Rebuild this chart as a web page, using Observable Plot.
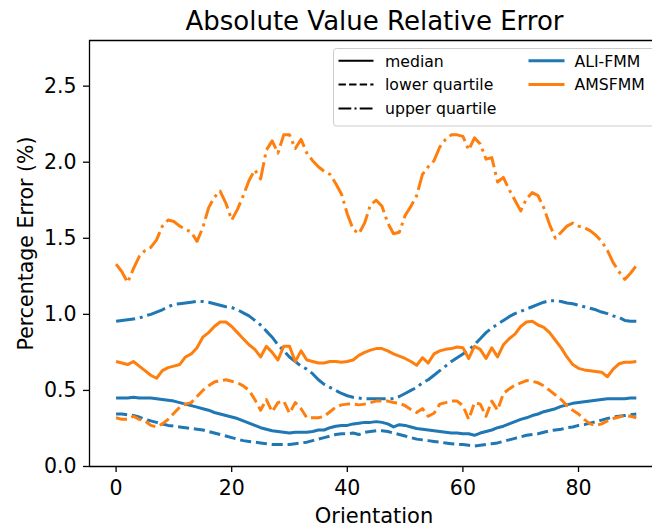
<!DOCTYPE html>
<html>
<head>
<meta charset="utf-8">
<script src="https://cdn.jsdelivr.net/npm/d3@7"></script>
<script src="https://cdn.jsdelivr.net/npm/@observablehq/plot@0.6"></script>
<style>
  html, body { margin: 0; padding: 0; background: white; overflow: hidden; }
  #chart { width: 652px; height: 529px; }
</style>
</head>
<body>
<div id="chart"></div>
<script>
// ---------------- data ----------------
const title = "Absolute Value Relative Error";
const xLabel = "Orientation";
const yLabel = "Percentage Error (%)";
const methods = ["ALI-FMM", "AMSFMM"];
const methodColors = ["#1f77b4", "#ff7f0e"];
const stats = ["median", "lower quartile", "upper quartile"];
const xTicks = [0, 20, 40, 60, 80];
const yTicks = [0, 0.5, 1.0, 1.5, 2.0, 2.5];
const xDomain = [-4.6, 92.8];
const yDomain = [0, 2.8];

const orientation = d3.range(0, 91);

const aliMedian = [
  0.45, 0.45, 0.45, 0.455, 0.45, 0.45, 0.45, 0.445, 0.44, 0.435,
  0.43, 0.42, 0.41, 0.40, 0.39, 0.38, 0.37, 0.355, 0.345, 0.335,
  0.325, 0.315, 0.30, 0.285, 0.27, 0.255, 0.245, 0.235, 0.23, 0.225,
  0.22, 0.225, 0.225, 0.225, 0.23, 0.24, 0.24, 0.255, 0.265, 0.27,
  0.27, 0.28, 0.285, 0.29, 0.29, 0.295, 0.29, 0.28, 0.26, 0.275,
  0.27, 0.26, 0.25, 0.245, 0.24, 0.235, 0.23, 0.225, 0.22, 0.22,
  0.215, 0.215, 0.205, 0.22, 0.23, 0.24, 0.255, 0.265, 0.28, 0.295,
  0.31, 0.32, 0.335, 0.345, 0.36, 0.37, 0.38, 0.395, 0.405, 0.415,
  0.42, 0.425, 0.43, 0.435, 0.44, 0.445, 0.445, 0.445, 0.445, 0.45,
  0.45
];
const aliLower = [
  0.345, 0.345, 0.34, 0.335, 0.325, 0.31, 0.30, 0.29, 0.28, 0.27,
  0.265, 0.26, 0.255, 0.25, 0.245, 0.24, 0.23, 0.22, 0.21, 0.20,
  0.19, 0.18, 0.17, 0.165, 0.16, 0.155, 0.15, 0.145, 0.145, 0.145,
  0.145, 0.15, 0.155, 0.16, 0.17, 0.18, 0.19, 0.20, 0.21, 0.215,
  0.215, 0.22, 0.21, 0.225, 0.23, 0.235, 0.235, 0.23, 0.22, 0.21,
  0.20, 0.19, 0.18, 0.175, 0.17, 0.165, 0.16, 0.155, 0.15, 0.145,
  0.145, 0.14, 0.135, 0.14, 0.145, 0.15, 0.155, 0.165, 0.175, 0.185,
  0.195, 0.205, 0.21, 0.215, 0.225, 0.235, 0.24, 0.245, 0.255, 0.26,
  0.27, 0.275, 0.285, 0.295, 0.305, 0.315, 0.325, 0.33, 0.335, 0.34,
  0.345
];
const aliUpper = [
  0.955, 0.96, 0.965, 0.97, 0.975, 0.99, 1.00, 1.015, 1.03, 1.05,
  1.065, 1.07, 1.075, 1.08, 1.085, 1.085, 1.08, 1.07, 1.06, 1.05,
  1.045, 1.03, 1.01, 0.99, 0.96, 0.93, 0.89, 0.85, 0.80, 0.76,
  0.72, 0.69, 0.66, 0.64, 0.61, 0.57, 0.54, 0.52, 0.50, 0.48,
  0.465, 0.455, 0.45, 0.445, 0.445, 0.445, 0.445, 0.445, 0.445, 0.46,
  0.48, 0.50, 0.52, 0.55, 0.57, 0.60, 0.63, 0.66, 0.69, 0.715,
  0.74, 0.765, 0.80, 0.84, 0.88, 0.91, 0.935, 0.96, 0.985, 1.005,
  1.02, 1.035, 1.05, 1.065, 1.08, 1.09, 1.09, 1.085, 1.075, 1.07,
  1.06, 1.05, 1.04, 1.03, 1.015, 1.005, 0.99, 0.98, 0.96, 0.955,
  0.955
];
const amsMedian = [
  0.69, 0.68, 0.67, 0.69, 0.66, 0.63, 0.60, 0.58, 0.63, 0.65,
  0.66, 0.67, 0.72, 0.74, 0.78, 0.85, 0.88, 0.92, 0.95, 0.95,
  0.92, 0.88, 0.84, 0.80, 0.77, 0.72, 0.79, 0.75, 0.70, 0.79,
  0.79, 0.69, 0.76, 0.70, 0.69, 0.68, 0.68, 0.69, 0.69, 0.685,
  0.69, 0.70, 0.73, 0.75, 0.765, 0.775, 0.775, 0.76, 0.74, 0.725,
  0.71, 0.69, 0.665, 0.715, 0.68, 0.74, 0.76, 0.77, 0.775, 0.785,
  0.78, 0.71, 0.79, 0.77, 0.71, 0.78, 0.72, 0.80, 0.84, 0.87,
  0.92, 0.95, 0.955, 0.93, 0.915, 0.88, 0.83, 0.78, 0.72, 0.67,
  0.645, 0.635, 0.63, 0.625, 0.62, 0.59, 0.64, 0.675, 0.685, 0.685,
  0.69
];
const amsLower = [
  0.32, 0.31, 0.31, 0.33, 0.31, 0.30, 0.27, 0.26, 0.28, 0.31,
  0.35, 0.39, 0.41, 0.42, 0.46, 0.50, 0.53, 0.555, 0.565, 0.57,
  0.56, 0.55, 0.53, 0.50, 0.44, 0.37, 0.44, 0.36, 0.42, 0.43,
  0.35, 0.42, 0.38, 0.32, 0.32, 0.32, 0.33, 0.36, 0.39, 0.405,
  0.41, 0.41, 0.405, 0.41, 0.42, 0.43, 0.43, 0.43, 0.42, 0.415,
  0.40, 0.375, 0.355, 0.38, 0.33, 0.35, 0.41, 0.42, 0.43, 0.43,
  0.40, 0.31, 0.42, 0.41, 0.33, 0.43, 0.37, 0.48, 0.51, 0.535,
  0.55, 0.565, 0.56, 0.55, 0.53, 0.50, 0.47, 0.44, 0.40, 0.37,
  0.345, 0.31, 0.28, 0.27, 0.28, 0.30, 0.315, 0.325, 0.335, 0.33,
  0.32
];
const amsUpper = [
  1.33, 1.28, 1.21, 1.30, 1.38, 1.42, 1.44, 1.49, 1.58, 1.62,
  1.61, 1.58, 1.56, 1.54, 1.48, 1.57, 1.70, 1.77, 1.81, 1.73,
  1.62, 1.69, 1.78, 1.88, 1.95, 1.89, 2.08, 2.14, 2.06, 2.18,
  2.18, 2.09, 2.15, 2.06, 2.01, 1.97, 1.94, 1.92, 1.86, 1.79,
  1.66, 1.56, 1.53, 1.60, 1.72, 1.75, 1.71, 1.60, 1.53, 1.54,
  1.65, 1.71, 1.78, 1.92, 1.97, 2.01, 2.10, 2.15, 2.18, 2.18,
  2.17, 2.08, 2.16, 2.12, 2.02, 2.03, 1.87, 1.90, 1.82, 1.75,
  1.68, 1.76, 1.80, 1.78, 1.70, 1.59, 1.50, 1.54, 1.58, 1.60,
  1.58, 1.57, 1.55, 1.52, 1.48, 1.42, 1.34, 1.28, 1.23, 1.27,
  1.32
];

// ---------------- build table ----------------
const seriesDefs = [
  {method: "ALI-FMM", stat: "median", values: aliMedian},
  {method: "ALI-FMM", stat: "lower quartile", values: aliLower},
  {method: "ALI-FMM", stat: "upper quartile", values: aliUpper},
  {method: "AMSFMM", stat: "median", values: amsMedian},
  {method: "AMSFMM", stat: "lower quartile", values: amsLower},
  {method: "AMSFMM", stat: "upper quartile", values: amsUpper}
];
const rows = seriesDefs.flatMap(s =>
  orientation.map((o, i) => ({orientation: o, value: s.values[i], method: s.method, stat: s.stat}))
);

const LW = 3;
const dashFor = (stat, lw) =>
  stat === "median" ? null :
  stat === "lower quartile" ? `${3.7 * lw},${1.6 * lw}` :
  `${6.4 * lw},${1.6 * lw},${1 * lw},${1.6 * lw}`;

const lineMarks = seriesDefs.map(s =>
  Plot.line(rows.filter(r => r.method === s.method && r.stat === s.stat), {
    x: "orientation", y: "value", stroke: "method",
    strokeWidth: LW, strokeDasharray: dashFor(s.stat, LW),
    strokeLinejoin: "round", strokeLinecap: "butt"
  })
);

const chart = Plot.plot({
  width: 652,
  height: 529,
  marginTop: 40,
  marginBottom: 63,
  marginLeft: 89,
  marginRight: 0,
  style: {fontFamily: "DejaVu Sans", fontSize: "20.5px", color: "black", background: "white", overflow: "visible"},
  x: {domain: xDomain},
  y: {domain: yDomain},
  color: {domain: methods, range: methodColors},
  marks: [
    ...lineMarks,
    Plot.ruleX([xDomain[0]], {stroke: "black", strokeWidth: 1.3}),
    Plot.ruleY([yDomain[0]], {stroke: "black", strokeWidth: 1.3}),
    Plot.ruleY([yDomain[1]], {stroke: "black", strokeWidth: 1.3}),
    Plot.axisX({ticks: xTicks, tickSize: 6, tickPadding: 8, label: null, tickFormat: d => String(d), strokeWidth: 1.3, fontSize: 20.5}),
    Plot.axisY({ticks: yTicks, tickSize: 6, tickPadding: 7, label: null, tickFormat: d3.format(".1f"), strokeWidth: 1.3, fontSize: 20.5}),
    Plot.text([title], {frameAnchor: "top", textAnchor: "middle", dx: 3.5, dy: -19.3, lineAnchor: "middle", fontSize: 26, fill: "black"}),
    Plot.text([xLabel], {frameAnchor: "bottom", textAnchor: "middle", dx: 3, dy: 49.3, lineAnchor: "middle", fontSize: 21, fill: "black"}),
    Plot.text([yLabel], {frameAnchor: "left", textAnchor: "middle", dx: -63.2, dy: -10, rotate: -90, lineAnchor: "middle", fontSize: 20.5, fill: "black"})
  ]
});

document.getElementById("chart").appendChild(chart);

// ---------------- legend (matplotlib-style box, upper right) ----------------
const svg = d3.select(chart);
const lg = svg.append("g").attr("font-family", "DejaVu Sans").attr("font-size", 15.7).attr("text-anchor", "start");
lg.append("rect")
  .attr("x", 333.5).attr("y", 48.5).attr("width", 330).attr("height", 77.5)
  .attr("rx", 3).attr("fill", "white").attr("fill-opacity", 0.8)
  .attr("stroke", "#cccccc").attr("stroke-width", 1);
const rowY = [60.7, 84.5, 108.5];
stats.forEach((st, i) => {
  const d = dashFor(st, 2);
  lg.append("line").attr("x1", 338.5).attr("x2", 373.5).attr("y1", rowY[i]).attr("y2", rowY[i])
    .attr("stroke", "black").attr("stroke-width", 2).attr("stroke-dasharray", d);
  lg.append("text").attr("x", 385).attr("y", rowY[i] + 0.37 * 15.7).attr("fill", "black")
    .attr("text-anchor", "start").text(st);
});
methods.forEach((m, i) => {
  lg.append("line").attr("x1", 528.5).attr("x2", 564.5).attr("y1", rowY[i]).attr("y2", rowY[i])
    .attr("stroke", methodColors[i]).attr("stroke-width", 3);
  lg.append("text").attr("x", 574.5).attr("y", rowY[i] + 0.37 * 15.7).attr("fill", "black")
    .attr("text-anchor", "start").text(m);
});
</script>
</body>
</html>
